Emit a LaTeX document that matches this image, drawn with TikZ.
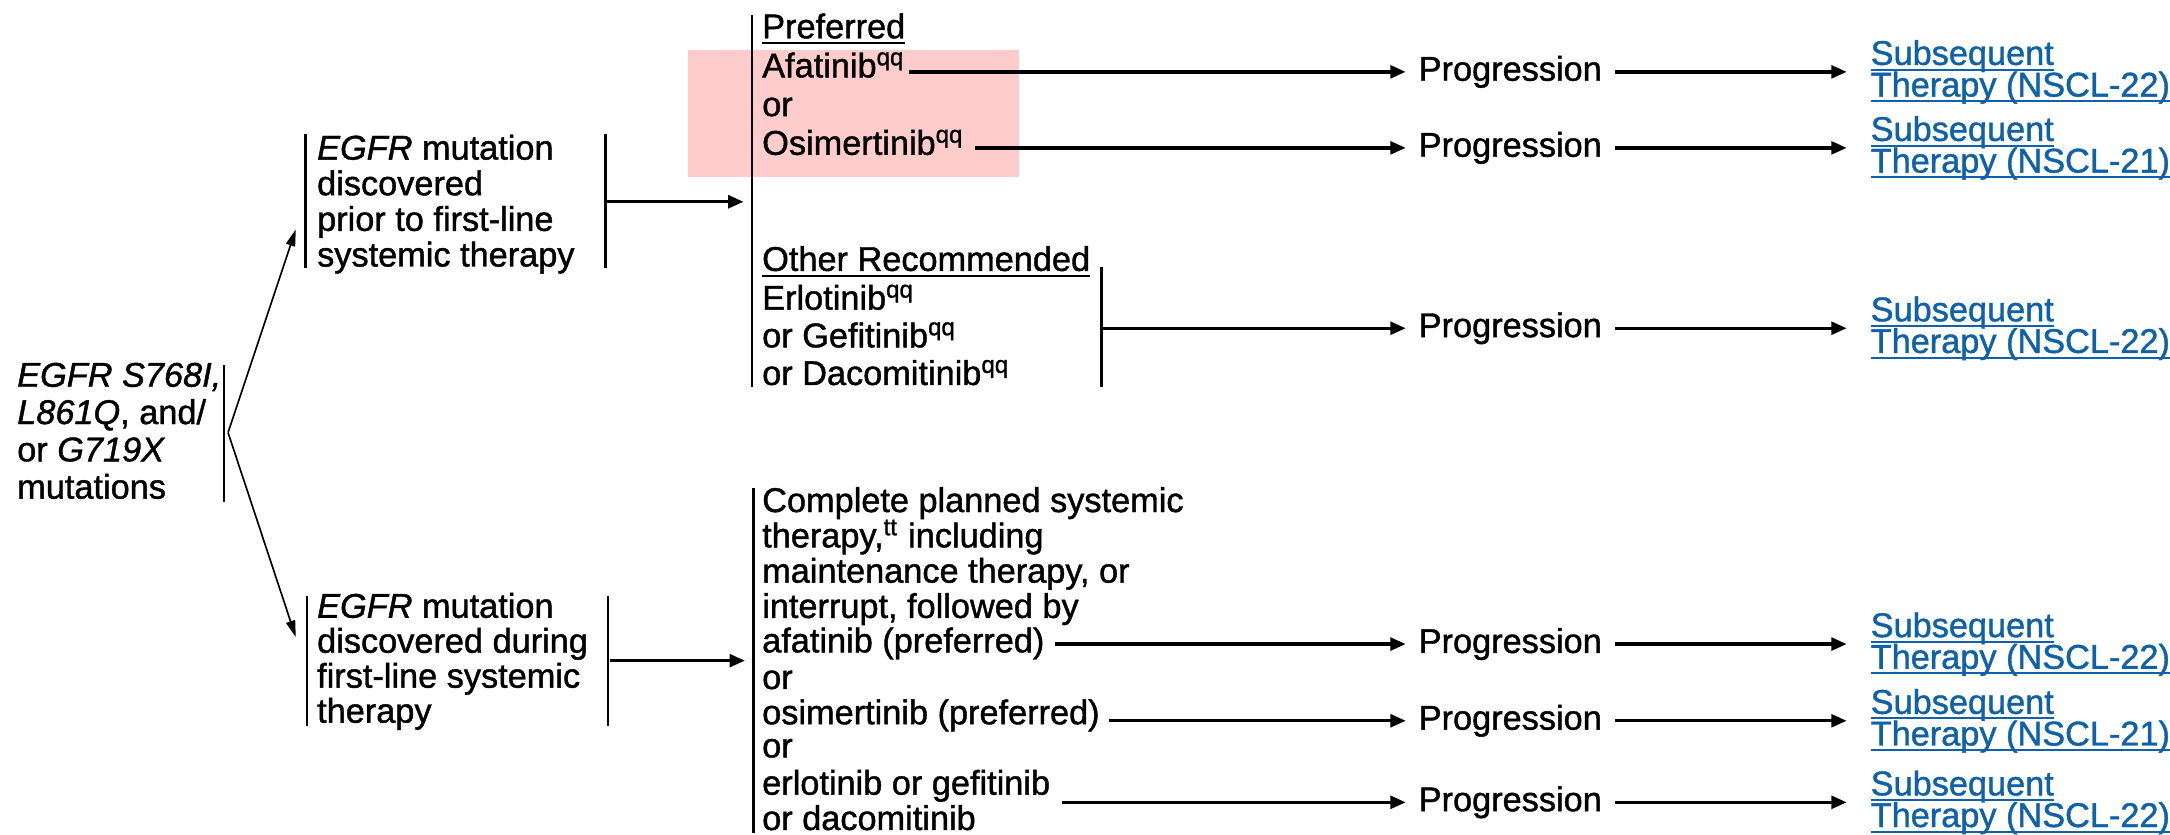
\documentclass[tikz,border=0pt]{standalone}
\usepackage{fontspec}
\setmainfont{Liberation Sans}[FakeBold=1.2]
\usetikzlibrary{arrows.meta}
\definecolor{linkblue}{RGB}{16,98,168}
\definecolor{hilite}{RGB}{255,204,204}
\newcommand{\ulin}[1]{\setbox0=\hbox{#1}\rlap{\rule[-1.7pt]{\wd0}{0.6pt}}\box0}
\tikzset{
  txt/.style={inner sep=0pt, anchor=base west, font=\fontsize{10.3}{11.4}\selectfont},
  blk/.style={txt, anchor=north west, align=left, font=\fontsize{10.3}{#1}\selectfont\setlength\lineskiplimit{-20pt}},
  prog/.style={inner sep=0pt, anchor=west, font=\fontsize{10.3}{11}\selectfont},
  link/.style={blk=9.5pt, anchor=west, text=linkblue},
  bar/.style={line width=0.8pt},
  arr/.style={line width=1pt, -{Triangle[length=4.6pt,width=3.8pt]}},
  diag/.style={line width=0.5pt, -{Triangle[length=5pt,width=2.8pt]}},
}
\begin{document}
\begin{tikzpicture}[x=0.415pt, y=-0.415pt]
  \fill[white] (0,0) rectangle (1568,603);
  \fill[hilite] (498,36) rectangle (737,128);

  % mutations
  \node[blk=11.2pt] (mut) at (12,262) {\textit{EGFR S768I,}\\\textit{L861Q}, and/\\or \textit{G719X}\\mutations};
  \draw[bar] (162,264) -- (162,363);
  \coordinate (fork) at (165,313);
  \coordinate (pri-in) at (214,166);
  \coordinate (dur-in) at (214,461);
  \draw[diag] (fork) -- (pri-in);
  \draw[diag] (fork) -- (dur-in);

  % discovered prior to first-line
  \node[blk=10.7pt] (pri) at (229,97) {\textit{EGFR} mutation\\discovered\\prior to first-line\\systemic therapy};
  \draw[bar] (221,97) -- (221,194);
  \draw[bar] (438,97) -- (438,194);
  \coordinate (pri-out) at (439,146);
  \coordinate (top-in) at (544,146);
  \draw[arr, shorten >=2.5pt] (pri-out) -- (top-in);

  % discovered during first-line
  \node[blk=10.5pt] (dur) at (229,428.5) {\textit{EGFR} mutation\\discovered during\\first-line systemic\\therapy};
  \draw[bar] (222,431) -- (222,525);
  \draw[bar] (440,431) -- (440,525);
  \coordinate (dur-out) at (441,478);
  \coordinate (low-in) at (545,478);
  \draw[arr, shorten >=2.5pt] (dur-out) -- (low-in);

  % first-line therapy
  \draw[bar] (544,11) -- (544,280);
  \node[txt] (pref) at (551,27.7) {\ulin{Preferred}};
  \node[txt] (afa) at (551,56) {Afatinib\textsuperscript{qq}};
  \node[txt] (or1) at (551,84) {or};
  \node[txt] (osi) at (551,112) {Osimertinib\textsuperscript{qq}};
  \node[txt] (oth) at (551,196) {\ulin{Other Recommended}};
  \node[blk=11.3pt] (erl) at (551,205.5) {Erlotinib\textsuperscript{qq}\\or Gefitinib\textsuperscript{qq}\\or Dacomitinib\textsuperscript{qq}};
  \draw[bar] (797,193) -- (797,280);
  \coordinate (oth-out) at (797,237.5);

  % during first-line therapy
  \draw[bar] (545,353) -- (545,603);
  \node[blk=10.6pt] (cmp) at (551,352) {Complete planned systemic\\therapy,\textsuperscript{tt} including\\maintenance therapy, or\\interrupt, followed by};
  \node[txt] (afa2) at (551,472) {afatinib (preferred)};
  \node[txt] (or2) at (551,498.5) {or};
  \node[txt] (osi2) at (551,524) {osimertinib (preferred)};
  \node[txt] (or3) at (551,548) {or};
  \node[blk=10.6pt] (erl2) at (551,556.5) {erlotinib or gefitinib\\or dacomitinib};

  % progression and subsequent therapy
  \foreach \n/\y in {1/52,2/107,3/237.5,4/466,5/521.5,6/580.5}
    \node[prog] (prog\n) at (1026,\y) {Progression};
  \foreach \n/\s in {1/22,2/21,3/22,4/22,5/21,6/22}
    \node[link] (sub\n) at (1353,0 |- prog\n.west) {\ulin{Subsequent}\\\ulin{Therapy (NSCL-\s)}};

  \draw[arr, shorten <=1pt, shorten >=3.7pt] (afa.east |- prog1.west) -- (prog1.west);
  \draw[arr, shorten <=3pt, shorten >=3.7pt] (osi.east |- prog2.west) -- (prog2.west);
  \draw[arr, shorten >=3.7pt] (oth-out) -- (prog3.west);
  \draw[arr, shorten <=3pt, shorten >=3.7pt] (afa2.east |- prog4.west) -- (prog4.west);
  \draw[arr, shorten <=2.5pt, shorten >=3.7pt] (osi2.east |- prog5.west) -- (prog5.west);
  \draw[arr, shorten <=3.5pt, shorten >=3.7pt] (erl2.east |- prog6.west) -- (prog6.west);
  \foreach \n in {1,...,6}
    \draw[arr, shorten <=3.7pt, shorten >=7pt] (prog\n.east) -- (sub\n.west);
\end{tikzpicture}
\end{document}
